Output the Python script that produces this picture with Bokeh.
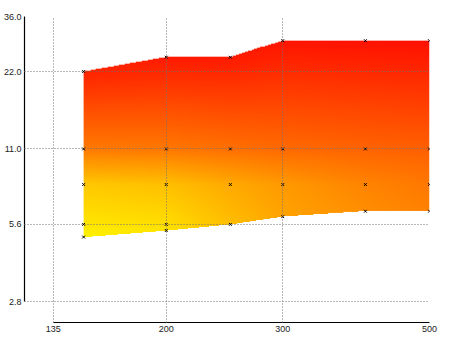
import numpy as np
from bokeh.plotting import figure
from bokeh.models import Range1d, FixedTicker, NumeralTickFormatter
from bokeh.embed import file_html
from bokeh.resources import INLINE

# ---- data ----
x_cols = [150, 200, 250, 300, 400, 500]
lower = [5.0, 5.3, 5.6, 6.0, 6.3, 6.3]
upper = [22.0, 25.0, 25.0, 29.0, 29.0, 29.0]

# measured points per column (y values) and the colour level (green channel) seen there
y_150 = [5.0, 5.6, 8.0, 11.0, 22.0]
g_150 = [244, 230, 200, 122, 35]
y_200 = [5.3, 5.6, 8.0, 11.0, 25.0]
g_200 = [228, 222, 192, 120, 26]
y_250 = [5.6, 8.0, 11.0, 25.0]
g_250 = [190, 170, 112, 26]
y_300 = [6.0, 8.0, 11.0, 29.0]
g_300 = [164, 154, 106, 20]
y_400 = [6.3, 8.0, 11.0, 29.0]
g_400 = [142, 132, 100, 18]
y_500 = [6.3, 8.0, 11.0, 29.0]
g_500 = [130, 120, 96, 16]

x_ticks = [135, 200, 300, 500]
y_ticks = [2.8, 5.6, 11.0, 22.0, 36.0]

col_y = [y_150, y_200, y_250, y_300, y_400, y_500]
col_g = [g_150, g_200, g_250, g_300, g_400, g_500]

# ---- build colour field image (log-log space) ----
NX, NY = 700, 400
x0, x1 = min(x_cols), max(x_cols)
y0, y1 = min(lower), max(upper)
lx = np.log(x0) + (np.arange(NX) + 0.5) * (np.log(x1) - np.log(x0)) / NX
ly = np.log(y0) + (np.arange(NY) + 0.5) * (np.log(y1) - np.log(y0)) / NY
lxc = np.log(x_cols)

zc = np.array([np.interp(ly, np.log(ys), gs) for ys, gs in zip(col_y, col_g)])  # (ncol, NY)
Z = np.empty((NY, NX))
for j in range(NY):
    Z[j, :] = np.interp(lx, lxc, zc[:, j])

lo = np.interp(lx, lxc, np.log(lower))
hi = np.interp(lx, lxc, np.log(upper))
LY = ly[:, None]
inside = (LY >= lo[None, :]) & (LY <= hi[None, :])

img = np.zeros((NY, NX), dtype=np.uint32)
view = img.view(dtype=np.uint8).reshape((NY, NX, 4))
view[:, :, 0] = 255
view[:, :, 1] = np.clip(Z, 0, 255).astype(np.uint8)
view[:, :, 2] = 0
view[:, :, 3] = np.where(inside, 255, 0).astype(np.uint8)

# ---- figure ----
p = figure(width=450, height=337, x_axis_type="log", y_axis_type="log",
           x_range=Range1d(122.1, 500), y_range=Range1d(2.327, 36),
           output_backend="svg", toolbar_location=None,
           min_border_left=22, min_border_right=21, min_border_top=16, min_border_bottom=15)
p.styles = {"position": "absolute", "left": "0px", "top": "0px"}
p.outline_line_color = None
p.background_fill_color = "white"

p.image_rgba(image=[img], x=x0, y=y0, dw=x1 - x0, dh=y1 - y0)

mx = [x for x, ys in zip(x_cols, col_y) for _ in ys]
my = [y for ys in col_y for y in ys]
p.scatter(mx, my, marker="x", size=4, line_color="black", line_width=1)

p.xaxis.ticker = FixedTicker(ticks=x_ticks)
p.yaxis.ticker = FixedTicker(ticks=y_ticks)
p.xaxis.formatter = NumeralTickFormatter(format="0")
p.yaxis.formatter = NumeralTickFormatter(format="0.0")
p.xaxis.bounds = (135, 500)
p.yaxis.bounds = (2.8, 36)
for ax in (p.xaxis, p.yaxis):
    ax.major_tick_out = 0
    ax.major_tick_in = 0
    ax.minor_tick_line_color = None
    ax.axis_line_color = "black"
    ax.axis_line_width = 1.2
    ax.major_label_text_font = "Liberation Sans"
    ax.major_label_text_font_size = "9px"
    ax.major_label_text_color = "#222222"
    ax.major_label_standoff = 3

p.grid.grid_line_color = "#707070"
p.grid.grid_line_dash = "1 2"
p.grid.grid_line_width = 1
p.xgrid.level = "overlay"
p.ygrid.level = "overlay"

open("out.html", "w").write(file_html(p, INLINE))
